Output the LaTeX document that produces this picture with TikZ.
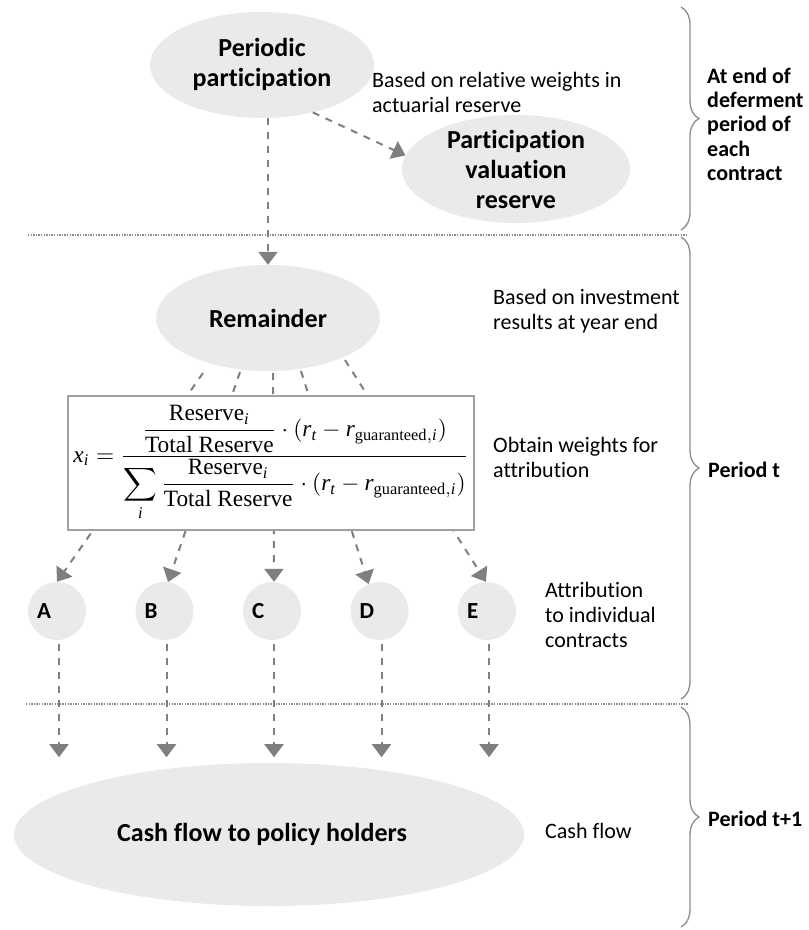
\documentclass[tikz,border=0pt]{standalone}
\usepackage{fontspec}
\usepackage{amsmath}
\usepackage{graphicx}
\setmainfont{Carlito}[Ligatures=NoCommon]
\newfontfamily\tmsfam{Liberation Serif}
\usetikzlibrary{shapes.geometric,arrows.meta,decorations.pathreplacing,calc}
\definecolor{ellfill}{HTML}{EAEAEA}
\definecolor{arrgray}{HTML}{7F7F7F}
\definecolor{bracegray}{HTML}{8C8C8C}
\definecolor{boxgray}{HTML}{A0A0A0}
\newcommand\tmsup[1]{\text{\tmsfam #1}}
\newcommand\tmsit[1]{\text{\tmsfam\itshape #1}}
\newcommand\leftlines[1]{\begin{tabular}[t]{@{}l@{}}#1\end{tabular}}
\newcommand\wfrac{\dfrac{\tmsup{Reserve}_{\tmsit{i}}}{\tmsup{Total Reserve}}\cdot(\tmsit{r}_{\tmsit{t}}-\tmsit{r}_{\tmsup{guaranteed},\tmsit{i}})}
\begin{document}
\begin{tikzpicture}[x=1pt,y=-1pt,
  blob/.style={ellipse, fill=ellfill, inner xsep=0pt, inner ysep=-12pt, align=center,
    font=\fontsize{26}{30}\selectfont\bfseries},
  contract/.style={circle, fill=ellfill, minimum size=58pt, inner sep=0pt,
    font=\fontsize{23}{27}\selectfont\bfseries},
  flow/.style={draw=arrgray, line width=2pt, dash pattern=on 7pt off 7pt,
    -{Triangle[length=13pt,width=19pt]}},
  note/.style={anchor=base west, inner sep=0pt, font=\fontsize{22}{25}\selectfont},
  period/.style={anchor=base west, inner sep=0pt, font=\fontsize{22}{24.4}\selectfont\bfseries},
  sepline/.style={draw=bracegray, line width=1.2pt, dash pattern=on 1.3pt off 1.3pt},
  bracedraw/.style={draw=bracegray, line width=1.3pt, decorate, decoration={brace, amplitude=18pt}}
]
\useasboundingbox (0,0) rectangle (809,930);

% separators
\draw[sepline] (28,235) -- (687,235);
\draw[sepline] (26,704) -- (689,704);

% braces
\draw[bracedraw] (681,7) -- (681,230);
\draw[bracedraw] (681,237) -- (681,699);
\draw[bracedraw] (681,707) -- (681,927);

% ellipses
\node[blob, minimum width=224pt, minimum height=106pt] (pp) at (262,65) {\raisebox{-3pt}{\begin{tabular}{@{}c@{}}Periodic\\participation\end{tabular}}};
\node[blob, minimum width=228pt, minimum height=108pt] (pvr) at (516,169) {Participation\\valuation\\reserve};
\node[blob, minimum width=224pt, minimum height=106pt] (rem) at (268,318) {Remainder};
\node[blob, minimum width=510pt, minimum height=143pt] (cash) at (269,834.5) {\hspace*{-14pt}Cash flow to policy holders};

% contracts
\node[contract] (A) at (57,611) {\makebox[40pt][l]{A}};
\node[contract] (B) at (164.5,611) {\makebox[40pt][l]{B}};
\node[contract] (C) at (272,611) {\makebox[40pt][l]{C}};
\node[contract] (D) at (379.5,611) {\makebox[40pt][l]{D}};
\node[contract] (E) at (487,611) {\makebox[40pt][l]{E}};

% connectors top
\draw[flow] (pp.south -| rem.north) -- (rem.north);
\draw[flow] (pp.-43) -- (pvr.173);

% fan from remainder to contracts
\coordinate (sA) at (203,373);
\coordinate (sB) at (240,372);
\coordinate (sC) at (273,373);
\coordinate (sD) at (301,371);
\coordinate (sE) at (345,360);
\draw[flow] (sA) -- (A.north);
\draw[flow] (sB) -- (B.83);
\draw[flow] (sC) -- (C.86);
\draw[flow] (sD) -- (D.112);
\draw[flow] (sE) -- (E.92);

% formula box
\node[draw=boxgray, line width=1.5pt, fill=white, minimum width=406pt, minimum height=134pt, inner sep=0pt] (fbox) at (271,463)
  {\resizebox{395pt}{!}{$\tmsit{x}_{\tmsit{i}}=\dfrac{\wfrac}{\displaystyle\sum_{\tmsit{i}}\wfrac}$}};

% down arrows
\foreach \n in {A,B,C,D,E}{
  \draw[flow] ($(\n.south)+(2,4)$) -- ++(0,113);
}

% notes
\node[note] (t1) at (372,87) {\leftlines{Based on relative weights in\\actuarial reserve}};
\node[note] (t2) at (493,304) {\leftlines{Based on investment\\results at year end}};
\node[note] (t3) at (493,452) {\leftlines{Obtain weights for\\attribution}};
\node[note] (t4) at (545,597) {\leftlines{Attribution\\to individual\\contracts}};
\node[note] (t5) at (545,838) {Cash flow};

\node[period] (p1) at (707,83) {\leftlines{At end of\\deferment\\period of\\each\\contract}};
\node[period] (p2) at (708,477) {Period t};
\node[period] (p3) at (708,826) {Period t+1};
\end{tikzpicture}
\end{document}
